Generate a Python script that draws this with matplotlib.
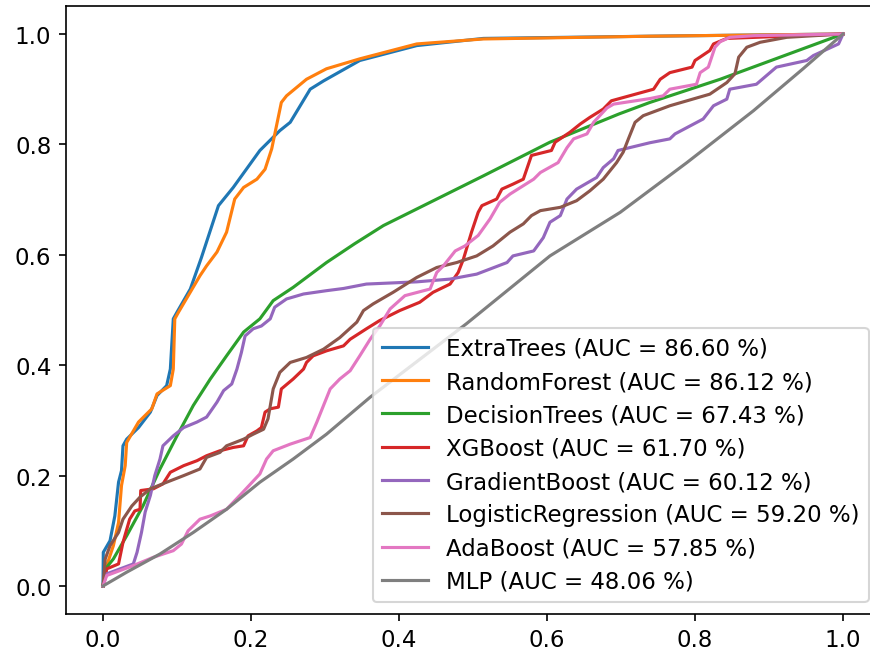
import numpy as np
import matplotlib
matplotlib.use("Agg")
import matplotlib.pyplot as plt

plt.rcParams["font.size"] = 11

# ROC curves per classifier (false positive rate, true positive rate)
names = ["ExtraTrees", "RandomForest", "DecisionTrees", "XGBoost",
         "GradientBoost", "LogisticRegression", "AdaBoost", "MLP"]
aucs = [86.60, 86.12, 67.43, 61.70, 60.12, 59.20, 57.85, 48.06]

fpr_et = [0, 0.0004, 0.0095, 0.016, 0.021, 0.025, 0.027, 0.032, 0.048, 0.064, 0.073, 0.086,
          0.091, 0.095, 0.100, 0.118, 0.133, 0.156, 0.176, 0.212, 0.239, 0.253, 0.280,
          0.298, 0.347, 0.424, 0.514, 0.739, 1.0]
tpr_et = [0, 0.061, 0.082, 0.127, 0.188, 0.209, 0.254, 0.266, 0.287, 0.315, 0.345, 0.363,
          0.393, 0.484, 0.496, 0.538, 0.595, 0.689, 0.722, 0.789, 0.825, 0.840, 0.900,
          0.915, 0.952, 0.979, 0.992, 0.996, 1.0]

fpr_rf = [0, 0.005, 0.014, 0.021, 0.025, 0.030, 0.032, 0.048, 0.066, 0.073, 0.091, 0.095,
          0.097, 0.102, 0.131, 0.140, 0.154, 0.167, 0.178, 0.190, 0.208, 0.219, 0.228,
          0.241, 0.248, 0.275, 0.302, 0.347, 0.424, 0.514, 0.739, 1.0]
tpr_rf = [0, 0.037, 0.073, 0.115, 0.182, 0.218, 0.260, 0.297, 0.321, 0.348, 0.363, 0.393,
          0.484, 0.496, 0.562, 0.580, 0.605, 0.641, 0.701, 0.722, 0.737, 0.755, 0.792,
          0.876, 0.888, 0.918, 0.937, 0.955, 0.982, 0.991, 0.996, 1.0]

fpr_dt = [0, 0.005, 0.014, 0.032, 0.054, 0.077, 0.100, 0.122, 0.145, 0.167, 0.190, 0.212,
          0.230, 0.257, 0.302, 0.340, 0.379, 0.424, 0.514, 0.604, 0.697, 0.739, 0.834, 1.0]
tpr_dt = [0, 0.034, 0.049, 0.091, 0.145, 0.212, 0.272, 0.327, 0.375, 0.417, 0.460, 0.484,
          0.517, 0.541, 0.586, 0.620, 0.653, 0.683, 0.743, 0.804, 0.855, 0.876, 0.918, 1.0]

fpr_xgb = [0, 0.005, 0.021, 0.027, 0.036, 0.043, 0.050, 0.051, 0.068, 0.081, 0.091, 0.109,
           0.127, 0.140, 0.158, 0.176, 0.190, 0.196, 0.208, 0.214, 0.219, 0.226, 0.237,
           0.241, 0.257, 0.271, 0.275, 0.284, 0.302, 0.325, 0.334, 0.356, 0.374, 0.401,
           0.428, 0.446, 0.469, 0.480, 0.487, 0.498, 0.507, 0.512, 0.532, 0.539, 0.554,
           0.568, 0.579, 0.606, 0.611, 0.631, 0.645, 0.658, 0.676, 0.687, 0.744, 0.753,
           0.766, 0.796, 0.800, 0.820, 0.825, 0.843, 1.0]
tpr_xgb = [0, 0.031, 0.040, 0.079, 0.121, 0.136, 0.139, 0.173, 0.176, 0.185, 0.206, 0.218,
           0.227, 0.236, 0.245, 0.251, 0.254, 0.272, 0.281, 0.287, 0.315, 0.321, 0.324,
           0.357, 0.375, 0.393, 0.405, 0.417, 0.426, 0.435, 0.447, 0.466, 0.481, 0.499,
           0.514, 0.532, 0.547, 0.568, 0.592, 0.641, 0.677, 0.689, 0.701, 0.719, 0.728,
           0.737, 0.780, 0.789, 0.804, 0.822, 0.837, 0.849, 0.864, 0.879, 0.900, 0.918,
           0.930, 0.940, 0.952, 0.970, 0.982, 0.992, 1.0]

fpr_gb = [0, 0.005, 0.041, 0.046, 0.052, 0.057, 0.064, 0.070, 0.077, 0.081, 0.095, 0.109,
          0.127, 0.140, 0.154, 0.163, 0.174, 0.181, 0.187, 0.192, 0.203, 0.214, 0.226,
          0.232, 0.248, 0.271, 0.302, 0.325, 0.356, 0.424, 0.469, 0.505, 0.546, 0.554,
          0.582, 0.595, 0.604, 0.618, 0.627, 0.640, 0.667, 0.676, 0.690, 0.696, 0.739,
          0.766, 0.773, 0.811, 0.825, 0.843, 0.847, 0.883, 0.910, 0.951, 0.960, 0.994, 1.0]
tpr_gb = [0, 0.022, 0.040, 0.061, 0.097, 0.134, 0.164, 0.200, 0.230, 0.254, 0.272, 0.287,
          0.297, 0.306, 0.333, 0.354, 0.366, 0.393, 0.423, 0.453, 0.466, 0.471, 0.484,
          0.505, 0.520, 0.529, 0.535, 0.539, 0.547, 0.551, 0.556, 0.565, 0.586, 0.598,
          0.607, 0.631, 0.659, 0.671, 0.701, 0.719, 0.740, 0.758, 0.774, 0.789, 0.803,
          0.810, 0.819, 0.846, 0.870, 0.882, 0.900, 0.909, 0.940, 0.952, 0.961, 0.982, 1.0]

fpr_lr = [0, 0.003, 0.0095, 0.021, 0.027, 0.039, 0.050, 0.064, 0.086, 0.109, 0.131, 0.140,
          0.158, 0.167, 0.190, 0.203, 0.217, 0.223, 0.230, 0.239, 0.253, 0.275, 0.298,
          0.320, 0.343, 0.352, 0.365, 0.392, 0.424, 0.451, 0.478, 0.505, 0.527, 0.550,
          0.568, 0.579, 0.591, 0.618, 0.640, 0.658, 0.676, 0.694, 0.703, 0.710, 0.719,
          0.730, 0.766, 0.820, 0.843, 0.854, 0.859, 0.870, 0.888, 0.924, 1.0]
tpr_lr = [0, 0.049, 0.073, 0.097, 0.121, 0.145, 0.161, 0.176, 0.188, 0.200, 0.212, 0.233,
          0.242, 0.254, 0.266, 0.275, 0.284, 0.303, 0.357, 0.387, 0.405, 0.414, 0.429,
          0.450, 0.478, 0.499, 0.511, 0.532, 0.559, 0.577, 0.586, 0.598, 0.616, 0.641,
          0.656, 0.671, 0.680, 0.686, 0.698, 0.716, 0.737, 0.767, 0.786, 0.810, 0.840,
          0.852, 0.870, 0.891, 0.912, 0.928, 0.958, 0.976, 0.985, 0.994, 1.0]

fpr_ada = [0, 0.005, 0.023, 0.041, 0.068, 0.095, 0.106, 0.115, 0.131, 0.145, 0.167, 0.187,
           0.212, 0.221, 0.230, 0.253, 0.280, 0.289, 0.298, 0.307, 0.320, 0.334, 0.347,
           0.361, 0.374, 0.388, 0.408, 0.442, 0.451, 0.460, 0.476, 0.489, 0.507, 0.523,
           0.536, 0.550, 0.582, 0.591, 0.615, 0.627, 0.636, 0.654, 0.663, 0.681, 0.690,
           0.739, 0.757, 0.766, 0.802, 0.807, 0.818, 0.827, 0.834, 0.847, 0.880, 1.0]
tpr_ada = [0, 0.019, 0.028, 0.037, 0.052, 0.064, 0.076, 0.100, 0.121, 0.127, 0.139, 0.167,
           0.203, 0.230, 0.245, 0.257, 0.269, 0.297, 0.327, 0.357, 0.375, 0.390, 0.417,
           0.447, 0.471, 0.502, 0.526, 0.538, 0.568, 0.580, 0.607, 0.616, 0.635, 0.665,
           0.695, 0.710, 0.737, 0.749, 0.767, 0.794, 0.810, 0.819, 0.840, 0.866, 0.873,
           0.883, 0.888, 0.900, 0.909, 0.930, 0.940, 0.976, 0.986, 0.994, 0.997, 1.0]

fpr_mlp = [0, 0.032, 0.077, 0.122, 0.167, 0.212, 0.257, 0.302, 0.361, 0.491, 0.604,
           0.699, 0.789, 0.879, 0.946, 1.0]
tpr_mlp = [0, 0.025, 0.058, 0.097, 0.139, 0.188, 0.230, 0.275, 0.342, 0.475, 0.598,
           0.677, 0.767, 0.861, 0.937, 1.0]

curves = [(fpr_et, tpr_et), (fpr_rf, tpr_rf), (fpr_dt, tpr_dt), (fpr_xgb, tpr_xgb),
          (fpr_gb, tpr_gb), (fpr_lr, tpr_lr), (fpr_ada, tpr_ada), (fpr_mlp, tpr_mlp)]

fig = plt.figure(figsize=(5.8, 655 / 150), dpi=150)
ax = fig.add_axes([66 / 870, 40.4 / 655, 814 / 870, 607.2 / 655])

for name, auc, (fpr, tpr) in zip(names, aucs, curves):
    ax.plot(np.array(fpr), np.array(tpr), label="%s (AUC = %.2f %%)" % (name, auc))

ax.legend(loc="lower right", labelspacing=0.45)
fig.savefig("out.png", dpi=150)
